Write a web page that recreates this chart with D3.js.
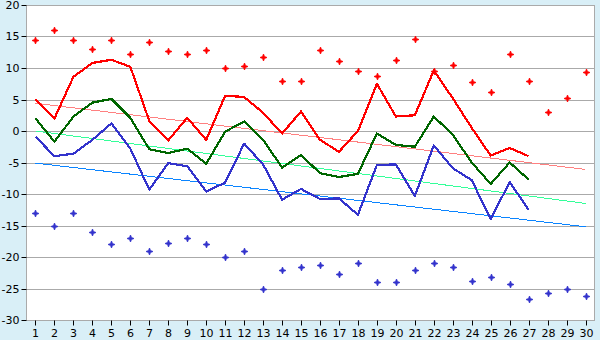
<!DOCTYPE html>
<html>
<head>
<meta charset="utf-8">
<script src="https://cdn.jsdelivr.net/npm/d3@7/dist/d3.min.js"></script>
<style>
  html, body { margin: 0; padding: 0; background: #d9eff7; }
  svg { display: block; }
  text { font-family: "DejaVu Sans", Verdana, sans-serif; font-size: 11px; fill: #000; }
</style>
</head>
<body>
<svg id="chart" width="600" height="340"></svg>
<script>
// Days of the month
const days = [1,2,3,4,5,6,7,8,9,10,11,12,13,14,15,16,17,18,19,20,21,22,23,24,25,26,27,28,29,30];

// Daily maximum, mean and minimum temperature (°C), days 1–27
const dailyMax  = [5.0, 2.0, 8.6, 10.8, 11.3, 10.2, 1.6, -1.5, 2.1, -1.4, 5.6, 5.4, 2.9, -0.4, 3.1, -1.4, -3.3, 0.0, 7.5, 2.3, 2.5, 9.6, 5.2, 0.5, -3.9, -2.7, -4.0];
const dailyMean = [2.0, -1.7, 2.3, 4.5, 5.1, 2.1, -2.9, -3.5, -2.8, -5.2, -0.1, 1.5, -1.4, -5.8, -3.8, -6.7, -7.3, -6.8, -0.4, -2.2, -2.5, 2.3, -0.6, -5.0, -8.4, -5.0, -7.7];
const dailyMin  = [-0.9, -4.0, -3.6, -1.4, 1.2, -2.8, -9.3, -5.1, -5.6, -9.6, -8.2, -2.0, -5.3, -10.9, -9.2, -10.8, -10.7, -13.3, -5.4, -5.3, -10.3, -2.3, -5.9, -7.8, -14.0, -8.1, -12.5];

// Record high and record low for each day
const recordHigh = [14.4, 16.0, 14.4, 13.0, 14.4, 12.2, 14.1, 12.7, 12.3, 12.8, 10.0, 10.3, 11.7, 7.9, 7.9, 12.8, 11.1, 9.5, 8.7, 11.3, 14.6, 9.5, 10.5, 7.8, 6.2, 12.2, 7.9, 3.0, 5.2, 9.4];
const recordLow  = [-13.0, -15.0, -13.0, -16.0, -18.0, -17.0, -19.0, -17.8, -17.0, -18.0, -20.0, -19.0, -25.0, -22.0, -21.6, -21.3, -22.7, -21.0, -24.0, -24.0, -22.1, -21.0, -21.6, -23.8, -23.2, -24.3, -26.7, -25.7, -25.0, -26.2];

// Climate normals at the first and last day of the month
const normalDays = [1, 30];
const normalMax  = [4.4, -6.1];
const normalMean = [0.0, -11.5];
const normalMin  = [-5.1, -15.2];

// Y axis ticks
const yTicks = [-30, -25, -20, -15, -10, -5, 0, 5, 10, 15, 20];

const svg = d3.select("#chart");
const margin = { left: 26, top: 5, right: 5, bottom: 20 };
const W = 600, H = 340;
const plotW = W - margin.left - margin.right;
const plotH = H - margin.top - margin.bottom;

const band = d3.scaleBand().domain(days).range([margin.left, margin.left + plotW]).padding(0);
const x = d => band(d) + band.bandwidth() / 2;
const y = d3.scaleLinear().domain([-30, 20]).range([margin.top + plotH, margin.top]);

// Plot background
svg.append("rect")
  .attr("x", margin.left).attr("y", margin.top)
  .attr("width", plotW).attr("height", plotH)
  .attr("fill", "#ffffff");

// Horizontal gridlines
svg.append("g").selectAll("line").data(yTicks).join("line")
  .attr("x1", margin.left).attr("x2", margin.left + plotW)
  .attr("y1", d => Math.round(y(d)) + 0.5).attr("y2", d => Math.round(y(d)) + 0.5)
  .attr("stroke", "#aaaaaa").attr("stroke-width", 1);

// Plot frame
svg.append("rect")
  .attr("x", margin.left + 0.5).attr("y", Math.round(y(20)) + 0.5)
  .attr("width", plotW - 1).attr("height", Math.round(y(-30)) - Math.round(y(20)))
  .attr("fill", "none").attr("stroke", "#aaaaaa");

// Y axis
const yAxis = svg.append("g")
  .attr("transform", `translate(${margin.left + 0.5},0)`)
  .call(d3.axisLeft(y).tickValues(yTicks).tickSize(5).tickPadding(2).tickFormat(d => String(d)));
yAxis.select(".domain").remove();
yAxis.selectAll(".tick line").attr("stroke", "#000");
yAxis.selectAll(".tick").attr("transform", d => `translate(0,${Math.round(y(d)) + 0.5})`);
yAxis.selectAll("text").attr("font-family", null).attr("font-size", null).attr("fill", null);

// X axis
const xAxis = svg.append("g")
  .attr("transform", `translate(0,${Math.round(y(-30)) + 0.5})`)
  .call(d3.axisBottom(band).tickSize(5).tickPadding(4));
xAxis.select(".domain").remove();
xAxis.selectAll(".tick line").attr("stroke", "#000");
xAxis.selectAll(".tick").attr("transform", d => `translate(${Math.round(x(d)) + 0.5},0)`);
xAxis.selectAll("text").attr("font-family", null).attr("font-size", null).attr("fill", null);

// Normal lines
const normalLine = vals => d3.line().x((d, i) => x(normalDays[i])).y(d => y(d))(vals);
[[normalMax, "#ff8080"], [normalMean, "#33ff99"], [normalMin, "#0a84ff"]].forEach(([vals, col]) => {
  svg.append("path").attr("d", normalLine(vals))
    .attr("fill", "none").attr("stroke", col).attr("stroke-width", 1)
    .attr("shape-rendering", "crispEdges");
});

// Daily lines
const dayLine = d3.line().x((d, i) => x(days[i])).y(d => y(d));
[[dailyMax, "#ff0000"], [dailyMean, "#006600"], [dailyMin, "#3333cc"]].forEach(([vals, col]) => {
  svg.append("path").attr("d", dayLine(vals))
    .attr("fill", "none").attr("stroke", col).attr("stroke-width", 2.2)
    .attr("stroke-linejoin", "round")
    .attr("shape-rendering", "crispEdges");
});

// Record markers: small four-pointed stars
const star = "M0,-3.5L1,-1L3.5,0L1,1L0,3.5L-1,1L-3.5,0L-1,-1Z";
[[recordHigh, "#ff0000"], [recordLow, "#3333cc"]].forEach(([vals, col]) => {
  svg.append("g").selectAll("path").data(vals).join("path")
    .attr("d", star)
    .attr("transform", (d, i) => `translate(${Math.round(x(days[i])) + 0.5},${Math.round(y(d)) + 0.5})`)
    .attr("fill", col).attr("stroke", col).attr("stroke-width", 0.8);
});
</script>
</body>
</html>
